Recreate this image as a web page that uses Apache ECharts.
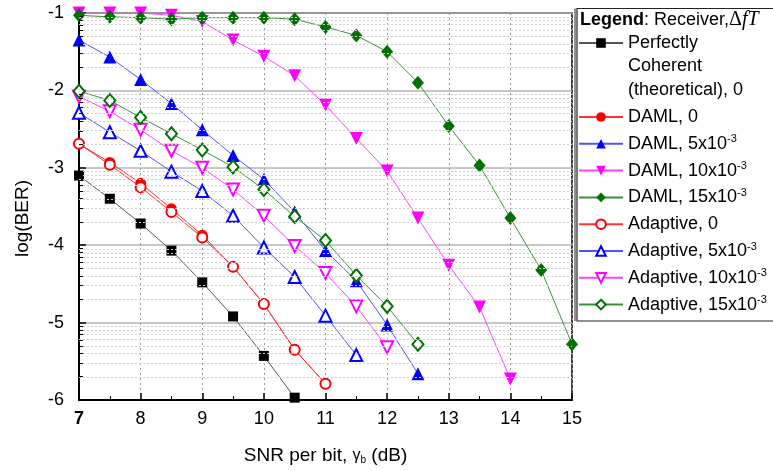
<!DOCTYPE html>
<html>
<head>
<meta charset="utf-8">
<script src="https://cdn.jsdelivr.net/npm/echarts@6/dist/echarts.min.js"></script>
<style>html,body{margin:0;padding:0;background:#fff;}#c{width:773px;height:470px;}</style>
</head>
<body>
<div id="c"></div>
<script>
// SNR per bit (dB) sample points
const snr = [7, 7.5, 8, 8.5, 9, 9.5, 10, 10.5, 11, 11.5, 12, 12.5, 13, 13.5, 14, 14.5, 15];
// log(BER) values
const coherent   = [-3.10, -3.40, -3.72, -4.07, -4.48, -4.92, -5.43, -5.97];
const daml0      = [-2.69, -2.93, -3.20, -3.53, -3.87, -4.28, -4.76, -5.35, -5.79];
const daml5      = [-1.35, -1.57, -1.86, -2.17, -2.51, -2.84, -3.15, -3.57, -4.07, -4.46, -5.03, -5.66];
const daml10     = [-1.00, -1.00, -1.00, -1.03, -1.11, -1.35, -1.56, -1.81, -2.19, -2.62, -3.04, -3.65, -4.26, -4.80, -5.73];
const daml15     = [-1.03, -1.05, -1.06, -1.08, -1.06, -1.06, -1.06, -1.08, -1.18, -1.29, -1.50, -1.90, -2.46, -2.97, -3.65, -4.32, -5.28];
const adaptive0  = [-2.69, -2.96, -3.25, -3.57, -3.90, -4.28, -4.76, -5.35, -5.79];
const adaptive5  = [-2.29, -2.54, -2.78, -3.05, -3.30, -3.62, -4.03, -4.41, -4.91, -5.42];
const adaptive10 = [-2.08, -2.27, -2.51, -2.78, -3.00, -3.28, -3.62, -4.01, -4.36, -4.79, -5.32];
const adaptive15 = [-2.01, -2.13, -2.35, -2.56, -2.77, -2.99, -3.28, -3.63, -3.94, -4.39, -4.79, -5.28];
// axis tick labels
const xTicks = [7, 8, 9, 10, 11, 12, 13, 14, 15];
const yTicks = [-1, -2, -3, -4, -5, -6];
// series names
const names = ['Perfectly Coherent (theoretical), 0', 'DAML, 0', 'DAML, 5x10-3', 'DAML, 10x10-3', 'DAML, 15x10-3',
  'Adaptive, 0', 'Adaptive, 5x10-3', 'Adaptive, 10x10-3', 'Adaptive, 15x10-3'];

const FONT = 'Liberation Sans';
const pair = vals => vals.map((v, i) => [snr[i], v]);

// minor (log-decade) grid positions
const minorVals = [];
for (let n = -6; n < -1; n++) {
  for (let k = 2; k <= 9; k++) minorVals.push(n + Math.log10(k));
}

function mkSeries(name, vals, symbol, rotate, size, markerColor, lineColor, z) {
  return {
    name: name, type: 'line', data: pair(vals), symbol: symbol, symbolRotate: rotate, symbolSize: size,
    showAllSymbol: true, clip: true, z: z,
    itemStyle: { color: markerColor },
    lineStyle: { color: lineColor, width: 1 },
    emphasis: { disabled: true }
  };
}

const series = [
  {
    type: 'line', name: '__grid', data: [], silent: true, z: 1,
    markLine: {
      silent: true, symbol: 'none', animation: false, label: { show: false },
      data: minorVals.map(v => ({ yAxis: v, lineStyle: { color: '#cfcfcf', type: [2, 2], width: 1 } }))
        .concat(minorVals.map(v => [
          { coord: [7, v], lineStyle: { color: '#000', type: 'solid', width: 1 } },
          { coord: [7.065, v] }
        ]))
    }
  },
  mkSeries(names[0], coherent, 'rect', 0, 10, '#000000', '#555555', 3),
  mkSeries(names[1], daml0, 'circle', 0, 11, '#ff0000', '#ff3030', 3),
  mkSeries(names[2], daml5, 'triangle', 0, 13, '#0000ff', '#5050ff', 3),
  mkSeries(names[3], daml10, 'triangle', 180, 13, '#ff00ff', '#ff40ff', 3),
  mkSeries(names[4], daml15, 'diamond', 0, [12, 14], '#007000', '#3a903a', 3),
  mkSeries(names[5], adaptive0, 'emptyCircle', 0, 10, '#ff0000', '#ff3030', 4),
  mkSeries(names[6], adaptive5, 'emptyTriangle', 0, 12, '#0000ff', '#5050ff', 4),
  mkSeries(names[7], adaptive10, 'emptyTriangle', 180, 12, '#ff00ff', '#ff40ff', 4),
  mkSeries(names[8], adaptive15, 'emptyDiamond', 0, [11, 13], '#007000', '#3a903a', 4)
];

const supFmt = name => name.replace(/10-3$/, '10{sup|-3}');

const option = {
  animation: false,
  backgroundColor: '#fff',
  textStyle: { fontFamily: FONT },
  grid: { left: 79, right: 201, top: 13, bottom: 67, show: true, borderColor: '#000', borderWidth: 1.5, backgroundColor: 'transparent' },
  xAxis: {
    type: 'value', min: 7, max: 15, interval: 1,
    name: 'SNR per bit, {g|γ}{sub|b} (dB)', nameLocation: 'middle', nameGap: 46,
    nameTextStyle: { fontFamily: FONT, fontSize: 19, color: '#000',
      rich: { g: { fontFamily: FONT, fontSize: 16, color: '#000' }, sub: { fontFamily: FONT, fontSize: 10, color: '#000', verticalAlign: 'bottom', lineHeight: 10 } } },
    axisLine: { lineStyle: { color: '#000', width: 2 } },
    axisTick: { inside: true, length: 7, lineStyle: { color: '#000', width: 1.5 } },
    minorTick: { show: true, splitNumber: 2, length: 4, lineStyle: { color: '#000', width: 1 } },
    splitLine: { show: true, lineStyle: { color: '#9a9a9a', type: [2, 3], width: 1 } },
    axisLabel: {
      fontFamily: FONT, fontSize: 18, color: '#000', margin: 10,
      formatter: v => (xTicks.indexOf(v) === 0 ? '{b|' + v + '}' : String(v)),
      rich: { b: { fontFamily: FONT, fontSize: 18, fontWeight: 'bold', color: '#000' } }
    }
  },
  yAxis: {
    type: 'value', min: -6, max: -1, interval: 1,
    name: 'log(BER)', nameLocation: 'middle', nameGap: 47,
    nameTextStyle: { fontFamily: FONT, fontSize: 19, color: '#000', padding: [0, 24, 0, 0] },
    axisLine: { lineStyle: { color: '#000', width: 2 } },
    axisTick: { inside: true, length: 7, lineStyle: { color: '#000', width: 1.5 } },
    splitLine: { show: true, lineStyle: { color: '#b4b4b4', width: 1.5 } },
    axisLabel: { fontFamily: FONT, fontSize: 18, color: '#000', margin: 15,
      formatter: v => (yTicks.indexOf(v) >= 0 ? String(v) : '') }
  },
  legend: [
    {
      data: [names[0]],
      orient: 'vertical', left: 578, top: -15.75, padding: 0,
      itemWidth: 44, itemHeight: 12, selectedMode: false,
      formatter: () => '\n\nPerfectly\nCoherent\n(theoretical), 0',
      textStyle: { fontFamily: FONT, fontSize: 18, color: '#000', lineHeight: 23.5 }
    },
    {
      data: names.slice(1),
      orient: 'vertical', left: 578, top: 107, padding: 0, itemGap: 6.8,
      itemWidth: 44, itemHeight: 12, selectedMode: false,
      formatter: supFmt,
      textStyle: { fontFamily: FONT, fontSize: 18, color: '#000', lineHeight: 20,
        rich: { sup: { fontFamily: FONT, fontSize: 11, color: '#000', verticalAlign: 'top', lineHeight: 11 } } }
    }
  ],
  graphic: [
    { type: 'rect', shape: { x: 577, y: 8.5, width: 210, height: 312.5 }, style: { fill: 'none', stroke: '#222', lineWidth: 1.2 }, z: 10 },
    { type: 'line', shape: { x1: 575, y1: 8.5, x2: 575, y2: 321 }, style: { stroke: '#222', lineWidth: 1 }, z: 10 },
    {
      type: 'text', x: 580, y: 20, z: 10,
      style: {
        text: '{b|Legend}: Receiver,{d|Δ}{i|fT}',
        font: '18px "Liberation Sans"', fill: '#000', verticalAlign: 'middle',
        rich: {
          b: { fontFamily: FONT, fontSize: 18, fontWeight: 'bold', fill: '#000' },
          d: { fontFamily: 'Liberation Serif', fontSize: 20, fill: '#000' },
          i: { fontFamily: 'Liberation Serif', fontSize: 20, fontStyle: 'italic', fill: '#000' }
        }
      }
    }
  ],
  series: series
};

const chart = echarts.init(document.getElementById('c'), null, { renderer: 'canvas' });
chart.setOption(option);
</script>
</body>
</html>
